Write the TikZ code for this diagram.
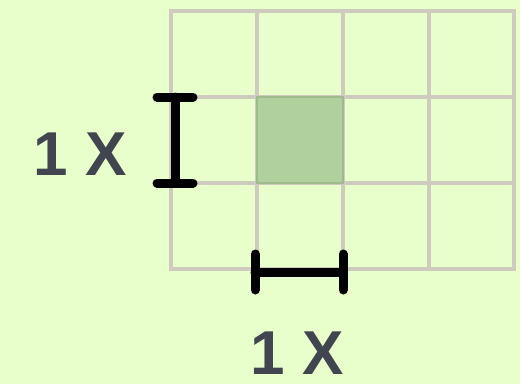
\documentclass[tikz,border=0pt]{standalone}
\usepackage{fontspec}
\setmainfont{Liberation Sans}
\usepackage{tikz}
\usetikzlibrary{positioning}
\definecolor{paper}{RGB}{232,255,204}
\definecolor{gridgray}{RGB}{206,202,190}
\definecolor{cellgreen}{RGB}{176,209,158}
\definecolor{celledge}{RGB}{160,186,142}
\definecolor{labelgray}{RGB}{64,69,80}

\begin{document}
\begin{tikzpicture}[x=1pt, y=-1pt,
  gridline/.style={draw=gridgray, line width=4.5pt, line cap=rect},
  unitcell/.style={fill=cellgreen, draw=celledge, line width=2.5pt},
  bracket/.style={draw=black, line width=9pt, line cap=round},
  unitlabel/.style={font=\fontsize{62}{62}\selectfont\bfseries, text=labelgray, inner sep=0pt}
]
% Page
\fill[paper] (0,0) rectangle (520,384);
\useasboundingbox (0,0) rectangle (520,384);

% Grid
\foreach \gx in {171,257,343,429,514}
  \draw[gridline] (\gx,11) -- (\gx,269);
\foreach \gy in {11,97,183,269}
  \draw[gridline] (171,\gy) -- (514,\gy);

% Unit cell
\draw[unitcell] (257,97) rectangle (343,183);

% Vertical bracket
\coordinate (vtop) at (175,97);
\coordinate (vbot) at (175,183);
\draw[bracket] (vtop) -- (vbot);
\draw[bracket] ([xshift=-18pt]vtop) -- ([xshift=18pt]vtop);
\draw[bracket] ([xshift=-18pt]vbot) -- ([xshift=18pt]vbot);

% Horizontal bracket
\coordinate (hleft) at (255,272);
\coordinate (hright) at (343,272);
\draw[bracket] (hleft) -- (hright);
\draw[bracket] ([yshift=-18pt]hleft) -- ([yshift=18pt]hleft);
\draw[bracket] ([yshift=-18pt]hright) -- ([yshift=18pt]hright);

% Labels
\node[unitlabel] (vlabel) at (80,154) {1 X};
\node[unitlabel] (hlabel) at (297,353) {1 X};
\end{tikzpicture}
\end{document}
